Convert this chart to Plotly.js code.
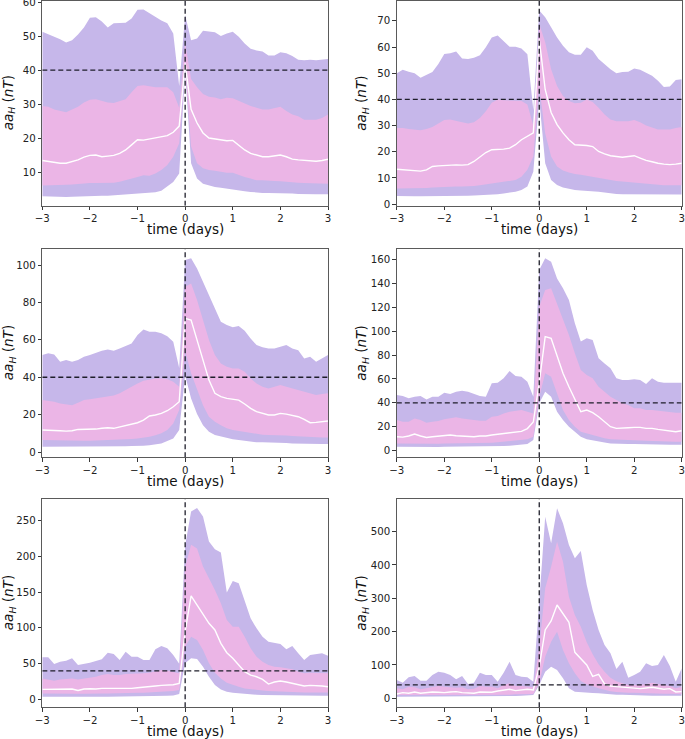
<!DOCTYPE html>
<html>
<head>
<meta charset="utf-8">
<script src="https://cdn.plot.ly/plotly-3.0.1.min.js"></script>
<style>html,body{margin:0;padding:0;background:#fff;}#chart{width:685px;height:739px;}</style>
</head>
<body>
<div id="chart"></div>
<script>
// time axis (days relative to epoch), 3-hour resolution
const timeDays = [-3,-2.875,-2.75,-2.625,-2.5,-2.375,-2.25,-2.125,-2,-1.875,-1.75,-1.625,-1.5,-1.375,-1.25,-1.125,-1,-0.875,-0.75,-0.625,-0.5,-0.375,-0.25,-0.125,0,0.125,0.25,0.375,0.5,0.625,0.75,0.875,1,1.125,1.25,1.375,1.5,1.625,1.75,1.875,2,2.125,2.25,2.375,2.5,2.625,2.75,2.875,3];
const xTicks = [-3,-2,-1,0,1,2,3];
const threshold = 40;
const xTitle = 'time (days)';
const yTitle = '<i>aa<sub>H</sub></i> (<i>nT</i>)';

// Panel 1
const p1OuterLo = [3.0,2.9,2.8,2.8,2.8,2.9,3.0,3.0,3.1,3.1,3.2,3.2,3.3,3.4,3.5,3.6,3.8,3.9,4.0,4.2,4.6,5.8,7.2,9.7,40.0,12.7,8.2,6.7,6.2,5.7,5.5,5.2,5.0,4.8,4.5,4.3,4.1,4.0,4.0,4.0,4.0,3.9,3.8,3.7,3.6,3.6,3.6,3.6,3.6];
const p1InnerLo = [6.2,6.2,6.2,6.3,6.4,6.5,6.7,6.8,6.9,6.9,6.9,7.0,7.0,7.3,7.7,8.2,8.7,9.2,9.0,9.7,10.7,12.2,14.6,18.6,41.0,17.6,12.7,11.2,10.7,10.5,10.2,9.9,9.9,9.2,8.7,8.2,7.7,7.7,7.5,7.5,7.4,7.2,7.0,7.0,6.9,6.8,6.7,6.7,6.7];
const p1Median = [13.5,13.2,12.9,12.7,12.7,13.1,13.7,14.5,15.0,15.1,14.6,14.8,15.0,15.6,16.6,18.1,19.6,19.5,19.8,20.0,20.3,20.8,21.8,23.6,42.0,28.5,24.5,21.6,20.1,19.8,19.4,19.3,19.4,18.1,16.6,15.6,15.1,14.6,14.6,14.8,15.1,14.6,13.9,13.7,13.5,13.4,13.3,13.5,13.9];
const p1InnerHi = [29.5,29.3,28.5,28.0,27.7,28.5,29.3,30.5,31.3,31.5,31.0,30.5,30.4,31.0,31.5,33.5,35.4,35.6,35.2,35.0,35.0,35.0,33.5,29.0,48.0,37.4,35.0,33.0,32.2,32.0,31.5,31.9,31.8,31.0,30.3,29.5,29.0,28.5,28.5,28.8,29.3,28.0,27.0,26.5,25.5,25.5,25.5,26.0,27.0];
const p1OuterHi = [51.3,50.6,49.8,49.1,48.1,48.8,50.5,52.5,55.4,55.5,54.3,52.5,53.8,53.9,53.9,55.2,57.7,57.8,56.7,55.7,54.6,53.8,50.8,35.4,56.2,48.8,49.3,51.6,51.3,51.1,50.0,50.8,51.3,49.8,47.8,46.3,45.8,45.5,44.3,44.3,45.3,45.0,44.2,43.1,42.9,43.1,42.9,43.1,43.3];

// Panel 2
const p2OuterLo = [3.1,3.0,3.0,3.0,3.0,3.0,3.1,3.1,3.1,3.1,3.1,3.2,3.2,3.3,3.4,3.5,3.6,3.8,4.1,4.4,4.7,5.4,6.7,12.4,40.0,15.6,9.2,7.3,6.4,5.9,5.4,5.2,5.1,4.9,4.7,4.4,4.1,3.9,3.8,3.8,3.8,3.8,3.7,3.7,3.7,3.7,3.7,3.7,3.7];
const p2InnerLo = [6.0,6.0,6.0,6.1,6.1,6.2,6.4,6.5,6.7,6.7,6.7,6.7,6.7,6.9,7.2,7.5,7.9,8.2,8.6,8.9,9.2,10.5,13.1,18.2,45.0,27.0,18.2,14.4,12.8,12.1,11.5,11.2,10.8,10.4,9.9,9.5,9.0,8.8,8.6,8.4,8.2,8.0,7.7,7.5,7.3,7.2,7.2,7.2,7.2];
const p2Median = [13.3,13.1,12.8,12.6,12.6,13.1,14.4,14.6,14.7,15.0,15.0,14.9,15.1,16.3,17.9,19.7,20.8,20.8,21.0,21.4,22.7,24.6,25.9,27.2,63.0,43.8,35.0,30.4,27.2,24.6,22.7,22.6,22.4,22.0,20.1,19.2,18.5,18.2,17.9,18.2,18.5,17.6,16.7,16.2,15.6,15.3,15.1,15.3,15.6];
const p2InnerHi = [29.1,29.1,28.7,28.5,28.2,28.7,29.5,30.8,32.1,32.3,31.7,31.3,30.8,31.3,32.9,35.5,38.7,40.0,39.7,39.6,39.7,39.4,38.1,30.0,68.8,61.8,51.5,45.1,41.3,39.4,38.5,38.7,40.0,39.0,36.8,34.2,32.3,31.7,31.7,31.7,32.1,31.3,30.0,29.1,28.5,28.5,28.5,29.1,29.5];
const p2OuterHi = [50.0,51.3,50.6,50.0,48.3,49.5,50.5,53.5,57.4,57.6,58.3,55.6,55.4,55.9,56.9,59.9,63.7,64.4,62.4,60.1,60.1,59.5,57.3,36.0,74.0,71.4,67.6,63.7,60.5,58.0,57.1,57.1,59.9,58.6,55.4,53.5,51.5,50.0,50.5,50.6,51.8,51.3,50.3,49.0,47.1,44.7,44.9,47.4,47.7];

// Panel 3
const p3OuterLo = [2.9,2.9,2.9,2.8,2.7,2.7,2.7,2.7,2.7,2.8,2.8,2.8,2.9,3.0,3.1,3.2,3.2,3.4,3.7,4.1,4.6,5.9,7.3,11.8,41.0,28.7,20.3,14.4,10.9,9.1,8.2,7.5,6.8,6.4,5.9,5.5,5.2,5.2,5.2,5.2,5.2,4.9,4.6,4.5,4.3,4.3,4.3,4.3,4.3];
const p3InnerLo = [6.4,6.3,6.3,6.2,6.1,6.1,6.1,6.1,6.1,6.2,6.3,6.3,6.4,6.6,6.8,7.0,7.3,7.7,8.2,9.0,10.0,11.8,15.3,22.5,54.0,42.1,34.0,25.1,18.9,16.2,14.4,12.7,11.8,11.3,10.9,10.2,9.6,9.3,9.1,9.1,9.1,8.8,8.6,8.4,8.2,8.0,7.8,7.8,7.8];
const p3Median = [11.8,11.8,11.6,11.4,11.2,11.4,12.1,12.1,12.5,12.3,12.7,13.0,12.7,13.5,14.4,15.0,15.7,17.1,19.3,19.8,20.7,22.1,24.2,26.9,71.5,70.6,59.9,49.2,38.5,31.4,29.6,28.7,28.2,27.8,25.7,23.4,21.6,20.7,19.8,19.8,20.7,20.3,19.8,18.9,17.5,15.7,15.9,16.2,16.6];
const p3InnerHi = [27.8,27.5,26.9,26.0,25.7,25.1,26.4,27.8,28.2,28.7,29.6,29.9,30.3,31.4,33.2,34.9,36.7,38.1,38.9,39.4,39.4,38.9,37.6,34.9,88.4,90.2,81.3,70.6,59.9,51.9,47.4,45.6,44.7,44.7,43.0,39.4,36.7,34.9,34.0,34.9,35.8,34.9,34.0,33.2,32.3,31.4,30.5,31.0,31.4];
const p3OuterHi = [51.9,52.8,52.2,48.3,49.2,48.3,49.2,51.0,51.9,53.1,54.2,54.9,54.2,55.4,56.7,58.1,62.6,65.6,64.3,64.3,63.5,62.0,59.0,45.0,102.7,103.6,98.2,91.1,84.0,76.8,69.7,67.9,66.7,67.4,64.9,60.8,57.2,56.0,55.4,55.4,56.3,57.2,55.4,54.5,50.1,51.0,48.3,50.1,51.9];

// Panel 4
const p4OuterLo = [3.3,3.2,3.1,3.1,3.0,3.0,3.1,3.2,3.3,3.3,3.3,3.3,3.3,3.4,3.5,3.7,3.9,3.9,3.9,4.2,4.5,4.7,5.6,8.9,39.6,49.3,45.2,32.6,25.6,20.1,15.9,11.7,9.5,8.4,7.5,6.8,6.1,5.8,5.6,5.6,5.6,5.4,5.3,5.2,5.0,5.0,5.0,5.0,5.0];
const p4InnerLo = [6.1,6.0,5.8,5.7,5.6,5.7,5.8,5.9,6.1,6.1,6.1,6.1,6.1,6.2,6.3,6.5,6.7,7.1,7.5,8.0,8.4,8.9,9.5,11.7,45.0,64.7,61.9,47.9,34.0,25.6,20.1,15.9,14.5,13.0,11.7,10.5,9.5,9.2,8.9,8.9,8.9,8.6,8.4,8.1,7.8,7.6,7.5,7.5,7.5];
const p4Median = [11.7,11.4,12.3,13.9,12.3,11.1,11.7,12.3,13.1,13.1,12.5,12.3,11.7,11.7,12.3,12.3,13.1,13.7,14.5,15.3,15.3,16.2,18.5,24.0,57.0,95.3,93.9,78.6,64.7,53.5,42.4,32.6,34.0,31.8,28.4,24.3,20.1,18.7,18.7,19.2,19.5,19.5,18.7,18.7,17.8,17.3,16.7,15.9,16.7];
const p4InnerHi = [25.6,24.3,24.3,27.0,25.6,23.4,24.3,24.8,26.2,27.0,27.9,27.0,26.2,25.6,25.1,25.1,28.4,29.0,31.2,32.6,33.4,34.0,32.6,31.2,120.4,134.4,135.7,123.2,109.3,96.7,81.4,67.5,63.3,60.5,53.5,49.3,45.2,42.4,39.6,38.2,35.4,35.4,34.0,34.0,33.4,32.6,31.8,31.8,31.8];
const p4OuterHi = [46.6,45.7,43.8,45.2,45.7,42.9,45.2,45.2,48.5,47.4,49.3,50.2,49.3,47.4,45.7,45.2,56.3,56.9,60.5,66.6,62.4,61.9,57.7,45.2,151.0,160.8,158.0,144.0,135.7,126.0,106.5,91.2,93.9,92.5,77.2,73.0,68.9,60.5,59.1,59.1,59.7,59.1,55.7,60.5,57.7,56.9,56.9,57.4,56.9];

// Panel 5
const p5OuterLo = [3.7,3.6,3.6,3.5,3.6,3.7,3.7,3.6,3.7,3.8,3.7,3.7,3.8,3.8,3.7,3.8,3.8,3.9,4.1,4.4,4.7,5.1,5.6,7.5,50.4,57.4,56.4,45.7,31.7,20.1,14.0,10.7,9.3,8.4,7.5,7.0,6.5,6.3,6.1,5.8,5.6,5.4,5.1,4.9,4.7,4.7,4.9,5.0,5.1];
const p5InnerLo = [8.4,8.2,8.0,7.8,7.5,7.6,7.8,8.0,8.4,8.4,8.4,8.4,8.4,8.6,8.8,9.0,9.3,9.5,9.8,10.2,10.7,11.2,11.7,13.1,73.7,87.7,83.0,69.0,50.4,37.3,29.4,23.3,20.1,17.7,15.4,14.2,13.1,12.4,11.7,11.2,10.7,10.5,10.2,10.0,9.8,9.8,9.8,9.8,9.8];
const p5Median = [14.0,14.0,14.5,14.9,14.5,14.5,12.6,14.5,14.9,14.5,15.4,15.4,14.9,15.9,15.9,15.4,16.3,16.8,17.7,18.7,19.6,20.1,20.5,22.4,95.0,144.6,132.0,120.3,106.3,97.0,78.4,65.3,57.4,48.0,38.7,34.0,31.7,28.0,21.5,24.3,25.7,24.3,22.4,21.0,18.7,19.6,19.6,18.7,17.7];
const p5InnerHi = [29.4,28.0,26.1,28.0,28.9,29.4,28.0,28.9,30.8,31.7,34.0,35.4,34.0,34.0,35.4,35.4,36.4,36.4,37.3,38.7,41.0,40.1,38.7,36.4,185.0,216.0,211.0,185.6,169.3,153.0,134.3,111.0,101.7,101.7,87.7,71.4,59.7,52.7,48.0,45.7,44.8,43.4,42.0,38.7,36.4,37.3,37.3,37.3,36.4];
const p5OuterHi = [58.8,58.8,49.4,52.7,54.1,57.4,48.0,49.4,51.3,53.6,56.0,65.3,63.4,55.0,66.7,59.7,59.7,55.0,55.0,70.0,74.6,71.4,62.0,50.0,215.0,262.6,267.3,255.6,220.6,209.9,205.2,149.3,165.6,162.3,139.0,113.3,99.3,87.7,80.7,79.3,77.4,70.0,74.6,64.4,55.0,62.0,63.4,64.4,61.1];

// Panel 6
const p6OuterLo = [5,5,5,5,5,5,5,5,5,5,5,5,5,5,5,5,5,6,6,7,7,8,8,10,40,80,95,85,60,30,20,18,18,16,15,13,12,11,11,10,10,9,9,8,8,8,8,8,8];
const p6InnerLo = [10,10,9,9,9,10,10,10,10,10,10,9,9,10,10,10,10,10,11,11,12,12,13,13,45,125,170,200,145,105,75,52,42,35,30,26,21,19,17,17,17,16,16,15,15,14,14,13,13];
const p6Median = [13,17,15,19,15,17,19,18,17,19,20,17,15,15,19,18,18,22,25,27,23,25,27,25,95,205,232,280,255,228,138,120,100,66,72,43,37,35,33,31,30,29,31,33,30,27,29,19,20];
const p6InnerHi = [30,27,35,33,27,30,35,37,35,33,32,33,27,29,37,35,35,30,40,45,37,37,35,33,150,330,395,470,410,305,250,215,168,132,102,80,62,51,45,40,40,40,43,47,43,40,37,30,35];
const p6OuterHi = [55,47,63,67,53,53,70,80,77,70,57,67,43,47,77,70,70,50,77,110,70,65,63,50,290,545,465,570,525,460,420,442,340,265,205,160,135,88,110,62,70,80,105,97,100,130,97,50,90];

const panels = [
  {lo:p1OuterLo, qlo:p1InnerLo, med:p1Median, qhi:p1InnerHi, hi:p1OuterHi, yTicks:[10,20,30,40,50,60]},
  {lo:p2OuterLo, qlo:p2InnerLo, med:p2Median, qhi:p2InnerHi, hi:p2OuterHi, yTicks:[0,10,20,30,40,50,60,70]},
  {lo:p3OuterLo, qlo:p3InnerLo, med:p3Median, qhi:p3InnerHi, hi:p3OuterHi, yTicks:[0,20,40,60,80,100]},
  {lo:p4OuterLo, qlo:p4InnerLo, med:p4Median, qhi:p4InnerHi, hi:p4OuterHi, yTicks:[0,20,40,60,80,100,120,140,160]},
  {lo:p5OuterLo, qlo:p5InnerLo, med:p5Median, qhi:p5InnerHi, hi:p5OuterHi, yTicks:[0,50,100,150,200,250]},
  {lo:p6OuterLo, qlo:p6InnerLo, med:p6Median, qhi:p6InnerHi, hi:p6OuterHi, yTicks:[0,100,200,300,400,500]}
];

// layout geometry (not data)
const W = 685, H = 739;
const colPx = [[42.3, 328], [396.8, 681.7]];
const rowPx = [[1, 205.7], [249, 457.3], [499, 707.3]];
const yRanges = [[0.25, 60.3], [-0.6, 77.6], [-2.8, 108.6], [-5.5, 168.6], [-11, 280], [-27, 598]];
const yTitleX = [9, 362.5];

const purple = '#c6b7ea';
const pink = '#ebb5e6';
const font = 'DejaVu Sans, Liberation Sans, sans-serif';

const data = [];
const layout = {
  width: W, height: H,
  margin: {l: 0, r: 0, t: 0, b: 0},
  paper_bgcolor: '#fff', plot_bgcolor: '#fff',
  showlegend: false,
  font: {family: font, color: '#222'},
  shapes: [], annotations: []
};

panels.forEach((p, i) => {
  const k = i === 0 ? '' : String(i + 1);
  const xa = 'x' + k, ya = 'y' + k;
  const col = i % 2, row = Math.floor(i / 2);
  const common = {x: timeDays, xaxis: xa, yaxis: ya, mode: 'lines', hoverinfo: 'skip', showlegend: false};
  data.push(Object.assign({}, common, {y: p.lo, line: {width: 0, color: purple}}));
  data.push(Object.assign({}, common, {y: p.hi, line: {width: 0, color: purple}, fill: 'tonexty', fillcolor: purple}));
  data.push(Object.assign({}, common, {y: p.qlo, line: {width: 0, color: pink}}));
  data.push(Object.assign({}, common, {y: p.qhi, line: {width: 0, color: pink}, fill: 'tonexty', fillcolor: pink}));
  data.push(Object.assign({}, common, {y: p.med, line: {width: 1.4, color: '#ffffff'}}));

  const xd = [colPx[col][0] / W, colPx[col][1] / W];
  const yd = [1 - rowPx[row][1] / H, 1 - rowPx[row][0] / H];
  layout['xaxis' + k] = {
    domain: xd, anchor: ya, range: [-3, 3],
    tickmode: 'array', tickvals: xTicks,
    ticks: 'outside', ticklen: 3.5, tickwidth: 0.9, tickcolor: '#222',
    showline: true, linecolor: '#5a5a5a', linewidth: 1, mirror: true,
    showgrid: false, zeroline: false, ticklabeloverflow: 'allow',
    tickfont: {family: font, size: 10.2, color: '#222'}
  };
  layout['yaxis' + k] = {
    domain: yd, anchor: xa, range: yRanges[i],
    tickmode: 'array', tickvals: p.yTicks,
    ticks: 'outside', ticklen: 3.5, tickwidth: 0.9, tickcolor: '#222',
    showline: true, linecolor: '#5a5a5a', linewidth: 1, mirror: true,
    showgrid: false, zeroline: false, ticklabeloverflow: 'allow',
    tickfont: {family: font, size: 10.2, color: '#222'}
  };
  // axis titles as paper annotations for exact placement
  layout.annotations.push({
    xref: 'paper', yref: 'paper',
    x: yTitleX[col] / W, y: (yd[0] + yd[1]) / 2,
    xanchor: 'center', yanchor: 'middle', textangle: -90, showarrow: false,
    text: yTitle, font: {family: font, size: 13.5, color: '#111'}
  });
  layout.annotations.push({
    xref: 'paper', yref: 'paper',
    x: (xd[0] + xd[1]) / 2, y: 1 - (rowPx[row][1] + 23.5) / H,
    xanchor: 'center', yanchor: 'middle', showarrow: false, borderpad: 0,
    text: xTitle, font: {family: font, size: 13.5, color: '#111'}
  });
  layout.shapes.push({type: 'line', xref: xa, yref: ya, x0: -3, x1: 3, y0: threshold, y1: threshold,
    line: {color: '#1e1e2a', width: 1.3, dash: '5px,3px'}, layer: 'above'});
  layout.shapes.push({type: 'line', xref: xa, yref: ya, x0: 0, x1: 0, y0: yRanges[i][0], y1: yRanges[i][1],
    line: {color: '#1e1e2a', width: 1.3, dash: '5px,3px'}, layer: 'above'});
});

Plotly.newPlot('chart', data, layout, {staticPlot: true, displayModeBar: false});
</script>
</body>
</html>
